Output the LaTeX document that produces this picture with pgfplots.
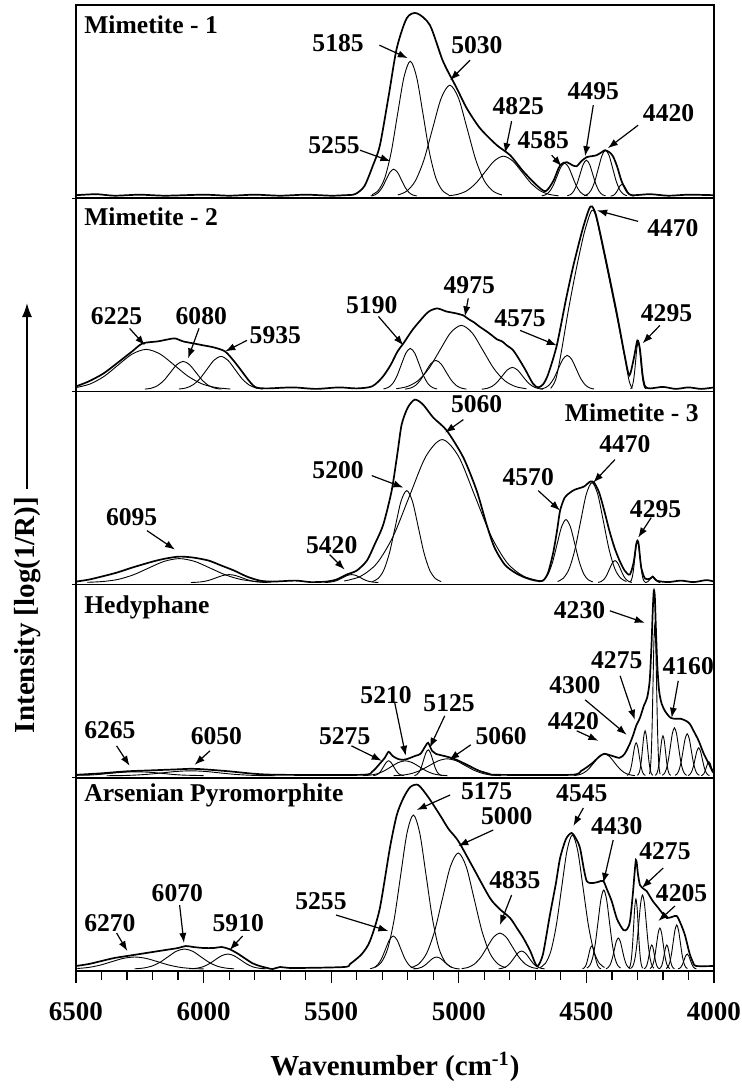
\documentclass[border=0pt]{standalone}
\usepackage{fontspec}
\setmainfont{Liberation Serif}
\usepackage{pgfplots}
\pgfplotsset{compat=1.18}
\usetikzlibrary{arrows.meta}
\newcommand{\lbl}{\fontsize{12.8}{14}\selectfont\bfseries}
\tikzset{
  env/.style={line width=0.85pt, black, smooth, tension=0.45},
  comp/.style={line width=0.45pt, black, smooth},
  arr/.style={line width=0.6pt, -{Latex[length=5pt,width=3.6pt]}},
  lab/.style={font=\lbl, inner sep=0pt},
}
\pgfplotsset{panel/.style={width=319pt, height=96.6pt, scale only axis,
  xmin=4000, xmax=6500, x dir=reverse, ymin=-2, ymax=191.2,
  xtick=\empty, ytick=\empty, clip=false, axis line style={line width=0.7pt}}}
\begin{document}
\begin{tikzpicture}
\useasboundingbox (-38pt,2.5pt) rectangle (332.5pt,-543pt);
% ---------------- Panel 1 ----------------
\begin{axis}[panel, at={(0pt,0pt)}, anchor=north west]
\addplot[env] coordinates {(6500,1)(6420,2)(6350,0.5)(6250,1.5)(6150,0.5)(6000,1.5)(5900,0.5)(5800,1.5)(5700,0.5)(5600,1.5)(5500,0.5)(5450,1)(5407,2)(5370,10)(5336,31)(5309,51)(5275,100)(5243,148)(5204,178)(5165,183)(5113,171)(5062,135)(5008,108)(4969,88)(4917,68)(4851,51)(4799,41)(4748,25)(4695,11)(4660,5)(4630,15)(4603,31)(4577,34)(4555,31)(4538,30)(4520,35)(4499,39)(4480,40)(4460,41)(4440,44)(4427,46)(4410,44)(4396,40)(4380,30)(4362,15)(4340,4)(4320,1)(4250,2)(4180,0.5)(4100,1.5)(4000,1)};
\addplot[comp] coordinates {(5345,0.3)(5330,1.2)(5315,3.7)(5300,8.8)(5285,16.4)(5270,23.8)(5255,27)(5240,23.8)(5225,16.4)(5210,8.8)(5195,3.7)(5180,1.2)(5165,0.3)};
\addplot[comp] coordinates {(5340,1.5)(5315,5.9)(5290,18.3)(5265,43.8)(5240,81.9)(5215,118.8)(5190,135)(5165,118.8)(5140,81.9)(5115,43.8)(5090,18.3)(5065,5.9)(5040,1.5)};
\addplot[comp] coordinates {(5239,1.2)(5205,4.9)(5171,15)(5137,36)(5103,67.3)(5069,98)(5035,111)(5001,98)(4967,67.3)(4933,36)(4899,15)(4865,4.9)(4831,1.2)};
\addplot[comp] coordinates {(5041,0.4)(5005,1.8)(4969,5.4)(4933,13)(4897,24.3)(4861,35.3)(4825,40)(4789,35.3)(4753,24.3)(4717,13)(4681,5.4)(4645,1.8)(4609,0.4)};
\addplot[comp] coordinates {(4675,0.4)(4660,1.4)(4645,4.5)(4630,10.7)(4615,20)(4600,29.1)(4585,33)(4570,29.1)(4555,20)(4540,10.7)(4525,4.5)(4510,1.4)(4495,0.4)};
\addplot[comp] coordinates {(4575,0.4)(4562.5,1.6)(4550,4.9)(4537.5,11.7)(4525,21.8)(4512.5,31.8)(4500,36)(4487.5,31.8)(4475,21.8)(4462.5,11.7)(4450,4.9)(4437.5,1.6)(4425,0.4)};
\addplot[comp] coordinates {(4509,0.5)(4495,2)(4481,6.2)(4467,14.9)(4453,27.9)(4439,40.6)(4425,46)(4411,40.6)(4397,27.9)(4383,14.9)(4369,6.2)(4355,2)(4341,0.5)};
\addplot[comp] coordinates {(4405,0.1)(4397.5,0.5)(4390,1.6)(4382.5,3.9)(4375,7.3)(4367.5,10.6)(4360,12)(4352.5,10.6)(4345,7.3)(4337.5,3.9)(4330,1.6)(4322.5,0.5)(4315,0.1)};
\node[lab, anchor=west] at (axis cs:6469,171) {Mimetite - 1};
\node[lab] at (axis cs:5473,153) {5185}; \draw[arr] (axis cs:5311,151) -- (axis cs:5200,138);
\node[lab] at (axis cs:4929,151) {5030}; \draw[arr] (axis cs:4956,136) -- (axis cs:5034,116);
\node[lab] at (axis cs:5489,51) {5255}; \draw[arr] (axis cs:5387,46) -- (axis cs:5268,35);
\node[lab] at (axis cs:4767,90) {4825}; \draw[arr] (axis cs:4793,75) -- (axis cs:4819,43);
\node[lab] at (axis cs:4669,56) {4585}; \draw[arr] (axis cs:4636,41) -- (axis cs:4597,30);
\node[lab] at (axis cs:4473,105) {4495}; \draw[arr] (axis cs:4473,91) -- (axis cs:4505,40);
\node[lab] at (axis cs:4178,83) {4420}; \draw[arr] (axis cs:4297,71) -- (axis cs:4416,48);
\end{axis}
% ---------------- Panel 2 ----------------
\begin{axis}[panel, at={(0pt,-96.6pt)}, anchor=north west]
\addplot[env] coordinates {(6500,3)(6450,8)(6392,16)(6330,28)(6280,38)(6239,46)(6180,48)(6140,50)(6112,51)(6080,48)(6040,46)(6000,44)(5960,42)(5916,38)(5880,28)(5850,18)(5820,8)(5795,2)(5750,1)(5650,2)(5560,0.5)(5470,2)(5400,1)(5340,3)(5300,12)(5268,24)(5240,38)(5217,46)(5180,60)(5130,75)(5110,79)(5087,81)(5070,80)(5050,78)(5030,77)(5010,76)(4995,75)(4982,74)(4960,70)(4940,67)(4920,63)(4891,58)(4870,54)(4850,50)(4830,48)(4812,44)(4790,40)(4773,34)(4740,20)(4710,6)(4690,2)(4670,5)(4650,15)(4616,44)(4580,90)(4550,125)(4515,160)(4490,180)(4478,183)(4460,172)(4420,125)(4380,75)(4350,34)(4332,14)(4315,30)(4300,49)(4290,40)(4280,15)(4270,3)(4250,1)(4200,2.5)(4150,0.5)(4100,2)(4050,0.5)(4000,2)};
\addplot[comp] coordinates {(6500,1.8)(6445,5.4)(6390,13)(6335,24.3)(6280,35.3)(6225,40)(6170,35.3)(6115,24.3)(6060,13)(6005,5.4)(5950,1.8)(5895,0.4)};
\addplot[comp] coordinates {(6230,0.3)(6205,1.2)(6180,3.8)(6155,9.1)(6130,17)(6105,24.7)(6080,28)(6055,24.7)(6030,17)(6005,9.1)(5980,3.8)(5955,1.2)(5930,0.3)};
\addplot[comp] coordinates {(6097,0.4)(6069.5,1.4)(6042,4.5)(6014.5,10.7)(5987,20)(5959.5,29.1)(5932,33)(5904.5,29.1)(5877,20)(5849.5,10.7)(5822,4.5)(5794.5,1.4)(5767,0.4)};
\addplot[comp] coordinates {(5295,0.5)(5277.5,1.8)(5260,5.5)(5242.5,13.3)(5225,24.9)(5207.5,36.2)(5190,41)(5172.5,36.2)(5155,24.9)(5137.5,13.3)(5120,5.5)(5102.5,1.8)(5085,0.5)};
\addplot[comp] coordinates {(5210,0.3)(5190,1.3)(5170,3.9)(5150,9.4)(5130,17.6)(5110,25.6)(5090,29)(5070,25.6)(5050,17.6)(5030,9.4)(5010,3.9)(4990,1.3)(4970,0.3)};
\addplot[comp] coordinates {(5245,0.7)(5202.5,2.8)(5160,8.7)(5117.5,20.8)(5075,38.8)(5032.5,56.5)(4990,64)(4947.5,56.5)(4905,38.8)(4862.5,20.8)(4820,8.7)(4777.5,2.8)(4735,0.7)};
\addplot[comp] coordinates {(4910,0.2)(4890,1)(4870,3)(4850,7.1)(4830,13.3)(4810,19.4)(4790,22)(4770,19.4)(4750,13.3)(4730,7.1)(4710,3)(4690,1)(4670,0.2)};
\addplot[comp] coordinates {(4680,0.4)(4662.5,1.5)(4645,4.6)(4627.5,11)(4610,20.6)(4592.5,30)(4575,34)(4557.5,30)(4540,20.6)(4522.5,11)(4505,4.6)(4487.5,1.5)(4470,0.4)};
\addplot[comp] coordinates {(4640,1)(4620,10)(4600,35)(4570,80)(4540,120)(4510,155)(4485,176)(4472,179)(4458,168)(4420,122)(4380,72)(4350,32)(4332,8)(4320,1)};
\addplot[comp] coordinates {(4327,0.5)(4322,2.1)(4317,6.4)(4312,15.3)(4307,28.5)(4302,41.5)(4297,47)(4292,41.5)(4287,28.5)(4282,15.3)(4277,6.4)(4272,2.1)(4267,0.5)};
\node[lab, anchor=west] at (axis cs:6469,173) {Mimetite - 2};
\node[lab] at (axis cs:4161,161) {4470}; \draw[arr] (axis cs:4297,168) -- (axis cs:4458,179);
\node[lab] at (axis cs:6341,73) {6225}; \draw[arr] (axis cs:6290,61) -- (axis cs:6230,44);
\node[lab] at (axis cs:6009,73) {6080}; \draw[arr] (axis cs:6018,61) -- (axis cs:6061,31);
\node[lab] at (axis cs:5719,54) {5935}; \draw[arr] (axis cs:5830,49) -- (axis cs:5915,38);
\node[lab] at (axis cs:5341,84) {5190}; \draw[arr] (axis cs:5315,73) -- (axis cs:5217,44);
\node[lab] at (axis cs:4959,104) {4975}; \draw[arr] (axis cs:4963,91) -- (axis cs:4976,73);
\node[lab] at (axis cs:4760,71) {4575}; \draw[arr] (axis cs:4760,59) -- (axis cs:4616,44);
\node[lab] at (axis cs:4186,76) {4295}; \draw[arr] (axis cs:4212,64) -- (axis cs:4280,46);
\end{axis}
% ---------------- Panel 3 ----------------
\begin{axis}[panel, at={(0pt,-193.2pt)}, anchor=north west]
\addplot[env] coordinates {(6500,1)(6450,3)(6400,6)(6340,10)(6280,15)(6200,21)(6150,24)(6095,26)(6040,25)(5980,22)(5930,17)(5880,12)(5830,6)(5780,2)(5730,1)(5640,2)(5580,0.5)(5520,1)(5480,3)(5440,8)(5400,12)(5360,22)(5330,38)(5296,58)(5263,92)(5240,130)(5224,158)(5200,175)(5172,183)(5140,178)(5100,165)(5047,152)(4982,125)(4930,92)(4891,58)(4860,35)(4820,18)(4780,10)(4740,5)(4700,2)(4670,2)(4650,10)(4630,30)(4615,52)(4603,72)(4585,85)(4564,90)(4545,93)(4510,96)(4485,101)(4470,100)(4450,90)(4430,72)(4410,52)(4390,35)(4370,22)(4350,12)(4330,8)(4315,20)(4305,38)(4300,42)(4295,38)(4285,15)(4270,4)(4250,4)(4240,6)(4225,2)(4180,0.5)(4130,2)(4080,0.5)(4030,2.5)(4000,1)};
\addplot[comp] coordinates {(6455,0.3)(6395,1.1)(6335,3.2)(6275,7.8)(6215,14.6)(6155,21.2)(6095,24)(6035,21.2)(5975,14.6)(5915,7.8)(5855,3.2)(5795,1.1)(5735,0.3)};
\addplot[comp] coordinates {(6050,0.1)(6025,0.4)(6000,1.1)(5975,2.6)(5950,4.9)(5925,7.1)(5900,8)(5875,7.1)(5850,4.9)(5825,2.6)(5800,1.1)(5775,0.4)(5750,0.1)};
\addplot[comp] coordinates {(5525,0.1)(5507.5,0.4)(5490,1.1)(5472.5,2.6)(5455,4.9)(5437.5,7.1)(5420,8)(5402.5,7.1)(5385,4.9)(5367.5,2.6)(5350,1.1)(5332.5,0.4)(5315,0.1)};
\addplot[comp] coordinates {(5339,1)(5316.5,4)(5294,12.4)(5271.5,29.9)(5249,55.8)(5226.5,81.2)(5204,92)(5181.5,81.2)(5159,55.8)(5136.5,29.9)(5114,12.4)(5091.5,4)(5069,1)};
\addplot[comp] coordinates {(5449,1.6)(5385,6.3)(5321,19.3)(5257,46.4)(5193,86.7)(5129,126.2)(5065,143)(5001,126.2)(4937,86.7)(4873,46.4)(4809,19.3)(4745,6.3)(4681,1.6)};
\addplot[comp] coordinates {(4685,0.7)(4667.5,2.8)(4650,8.5)(4632.5,20.5)(4615,38.2)(4597.5,55.6)(4580,63)(4562.5,55.6)(4545,38.2)(4527.5,20.5)(4510,8.5)(4492.5,2.8)(4475,0.7)};
\addplot[comp] coordinates {(4613,1.1)(4590.5,4.4)(4568,13.5)(4545.5,32.5)(4523,60.7)(4500.5,88.3)(4478,100)(4455.5,88.3)(4433,60.7)(4410.5,32.5)(4388,13.5)(4365.5,4.4)(4343,1.1)};
\addplot[comp] coordinates {(4454,0.2)(4443,1)(4432,3)(4421,7.1)(4410,13.3)(4399,19.4)(4388,22)(4377,19.4)(4366,13.3)(4355,7.1)(4344,3)(4333,1)(4322,0.2)};
\addplot[comp] coordinates {(4330,0.5)(4325,1.8)(4320,5.7)(4315,13.6)(4310,25.5)(4305,37.1)(4300,42)(4295,37.1)(4290,25.5)(4285,13.6)(4280,5.7)(4275,1.8)(4270,0.5)};
\addplot[comp] coordinates {(4270,0.1)(4260,0.8)(4250,3.6)(4245,5.3)(4240,6)(4235,5.3)(4230,3.6)(4220,0.8)(4210,0.1)};
\node[lab, anchor=east] at (axis cs:4059,170) {Mimetite - 3};
\node[lab] at (axis cs:4930,178) {5060}; \draw[arr] (axis cs:4982,163) -- (axis cs:5054,150);
\node[lab] at (axis cs:5473,112) {5200}; \draw[arr] (axis cs:5341,107) -- (axis cs:5217,95);
\node[lab] at (axis cs:4349,138) {4470}; \draw[arr] (axis cs:4388,123) -- (axis cs:4473,100);
\node[lab] at (axis cs:4728,105) {4570}; \draw[arr] (axis cs:4689,92) -- (axis cs:4603,72);
\node[lab] at (axis cs:4229,73) {4295}; \draw[arr] (axis cs:4246,65) -- (axis cs:4297,45);
\node[lab] at (axis cs:6282,65) {6095}; \draw[arr] (axis cs:6222,52) -- (axis cs:6112,33);
\node[lab] at (axis cs:5498,37) {5420}; \draw[arr] (axis cs:5506,28) -- (axis cs:5447,13);
\end{axis}
% ---------------- Panel 4 ----------------
\begin{axis}[panel, at={(0pt,-289.8pt)}, anchor=north west]
\addplot[env] coordinates {(6500,1)(6400,2.5)(6300,4.5)(6200,5.5)(6100,6.5)(6050,7)(6000,6.5)(5900,4.5)(5800,2)(5700,1)(5380,1)(5340,4)(5310,12)(5290,18)(5275,24)(5260,20)(5240,17)(5220,16)(5200,17)(5170,20)(5150,22)(5130,30)(5120,33)(5105,25)(5090,22)(5060,20)(5030,18)(5000,15)(4960,10)(4920,5)(4880,2)(4850,1)(4560,1)(4520,5)(4480,12)(4450,19)(4430,22)(4400,20)(4370,18)(4350,22)(4330,32)(4315,42)(4305,50)(4290,58)(4275,70)(4262,78)(4252,95)(4245,130)(4240,165)(4236,185)(4232,180)(4228,150)(4222,110)(4215,85)(4205,72)(4190,64)(4170,58)(4150,57)(4130,57)(4110,55)(4095,52)(4080,45)(4060,35)(4040,22)(4020,12)(4005,4)(4000,3)};
\addplot[comp] coordinates {(6500,0.5)(6450,0.7)(6400,1.6)(6350,2.9)(6300,3.8)(6265,4)(6230,3.8)(6180,2.9)(6130,1.6)(6080,0.7)(6000,0.2)};
\addplot[comp] coordinates {(6380,0.1)(6325,0.2)(6270,0.7)(6215,1.6)(6160,3)(6105,4.4)(6050,5)(5995,4.4)(5940,3)(5885,1.6)(5830,0.7)(5775,0.2)(5720,0.1)};
\addplot[comp] coordinates {(5335,0.2)(5325,0.7)(5315,2)(5305,4.9)(5295,9.1)(5285,13.2)(5275,15)(5265,13.2)(5255,9.1)(5245,4.9)(5235,2)(5225,0.7)(5215,0.2)};
\addplot[comp] coordinates {(5375,0.2)(5347.5,0.7)(5320,2)(5292.5,4.9)(5265,9.1)(5237.5,13.2)(5210,15)(5182.5,13.2)(5155,9.1)(5127.5,4.9)(5100,2)(5072.5,0.7)(5045,0.2)};
\addplot[comp] coordinates {(5174,0.3)(5165,1.1)(5156,3.5)(5147,8.4)(5138,15.8)(5129,22.9)(5120,26)(5111,22.9)(5102,15.8)(5093,8.4)(5084,3.5)(5075,1.1)(5066,0.3)};
\addplot[comp] coordinates {(5255,0.2)(5220,0.7)(5185,2.3)(5150,5.5)(5115,10.3)(5080,15)(5045,17)(5010,15)(4975,10.3)(4940,5.5)(4905,2.3)(4870,0.7)(4835,0.2)};
\addplot[comp] coordinates {(4550,0.2)(4530,1)(4510,3)(4490,7.1)(4470,13.3)(4450,19.4)(4430,22)(4410,19.4)(4390,13.3)(4370,7.1)(4350,3)(4330,1)(4310,0.2)};
\addplot[comp] coordinates {(4341,0.4)(4335,1.4)(4329,4.5)(4323,10.7)(4317,20)(4311,29.1)(4305,33)(4299,29.1)(4293,20)(4287,10.7)(4281,4.5)(4275,1.4)(4269,0.4)};
\addplot[comp] coordinates {(4300,0.5)(4295,2)(4290,6.1)(4285,14.6)(4280,27.3)(4275,39.7)(4270,45)(4265,39.7)(4260,27.3)(4255,14.6)(4250,6.1)(4245,2)(4240,0.5)};
\addplot[comp] coordinates {(4253,1.7)(4249.5,6.6)(4246,20.4)(4242.5,49)(4239,91.6)(4235.5,133.3)(4232,151)(4228.5,133.3)(4225,91.6)(4221.5,49)(4218,20.4)(4214.5,6.6)(4211,1.7)};
\addplot[comp] coordinates {(4230,0.4)(4225,1.8)(4220,5.4)(4215,13)(4210,24.3)(4205,35.3)(4200,40)(4195,35.3)(4190,24.3)(4185,13)(4180,5.4)(4175,1.8)(4170,0.4)};
\addplot[comp] coordinates {(4203,0.5)(4195,2.1)(4187,6.5)(4179,15.6)(4171,29.1)(4163,42.4)(4155,48)(4147,42.4)(4139,29.1)(4131,15.6)(4123,6.5)(4115,2.1)(4107,0.5)};
\addplot[comp] coordinates {(4153,0.5)(4145,1.8)(4137,5.7)(4129,13.6)(4121,25.5)(4113,37.1)(4105,42)(4097,37.1)(4089,25.5)(4081,13.6)(4073,5.7)(4065,1.8)(4057,0.5)};
\addplot[comp] coordinates {(4102,0.3)(4095,1.2)(4088,3.8)(4081,9.1)(4074,17)(4067,24.7)(4060,28)(4053,24.7)(4046,17)(4039,9.1)(4032,3.8)(4025,1.2)(4018,0.3)};
\addplot[comp] coordinates {(4050,0.2)(4040,1.9)(4030,8.5)(4025,12.4)(4020,14)(4015,12.4)(4010,8.5)(4000,1.9)};
\node[lab, anchor=west] at (axis cs:6469,168) {Hedyphane};
\node[lab] at (axis cs:4527,166) {4230}; \draw[arr] (axis cs:4408,165) -- (axis cs:4271,153);
\node[lab] at (axis cs:4101,110) {4160}; \draw[arr] (axis cs:4140,95) -- (axis cs:4166,58);
\node[lab] at (axis cs:4381,116) {4275}; \draw[arr] (axis cs:4368,100) -- (axis cs:4310,56);
\node[lab] at (axis cs:4545,91) {4300}; \draw[arr] (axis cs:4505,76) -- (axis cs:4342,41);
\node[lab] at (axis cs:4551,55) {4420}; \draw[arr] (axis cs:4538,45) -- (axis cs:4453,35);
\node[lab] at (axis cs:6367,46) {6265}; \draw[arr] (axis cs:6341,30) -- (axis cs:6290,10);
\node[lab] at (axis cs:5950,40) {6050}; \draw[arr] (axis cs:5975,25) -- (axis cs:6035,11);
\node[lab] at (axis cs:5447,40) {5275}; \draw[arr] (axis cs:5421,30) -- (axis cs:5302,15);
\node[lab] at (axis cs:5285,81) {5210}; \draw[arr] (axis cs:5251,73) -- (axis cs:5208,20);
\node[lab] at (axis cs:5038,73) {5125}; \draw[arr] (axis cs:5055,60) -- (axis cs:5114,28);
\node[lab] at (axis cs:4834,40) {5060}; \draw[arr] (axis cs:4953,31) -- (axis cs:5038,16);
\end{axis}
% ---------------- Panel 5 ----------------
\begin{axis}[panel, at={(0pt,-386.4pt)}, anchor=north west,
  xtick={4000,4500,5000,5500,6000,6500}, minor x tick num=4, xtick pos=left,
  tick align=outside, major tick length=6pt, minor tick length=4.5pt,
  every tick/.style={black, line width=0.6pt},
  /pgf/number format/1000 sep={}, /pgf/number format/assume math mode=true,
  xticklabel style={font=\fontsize{13.5}{15}\selectfont\bfseries, yshift=-6pt}]
\addplot[env] coordinates {(6500,3)(6450,5)(6400,8)(6350,11)(6300,13)(6250,15)(6200,17)(6150,19)(6100,21)(6070,23)(6040,22)(6000,21)(5960,21)(5930,22)(5900,20)(5870,16)(5840,11)(5810,6)(5780,3)(5750,1)(5730,0)(5700,2)(5650,1)(5450,2)(5426,5)(5380,15)(5348,28)(5310,60)(5270,121)(5243,154)(5217,171)(5190,182)(5159,184)(5120,172)(5074,154)(5040,140)(5002,128)(4943,101)(4878,71)(4840,60)(4799,51)(4770,40)(4747,31)(4720,18)(4701,6)(4690,3)(4670,15)(4643,54)(4620,85)(4603,111)(4580,130)(4558,136)(4540,130)(4525,121)(4510,100)(4499,88)(4485,86)(4473,86)(4455,87)(4434,88)(4420,80)(4401,68)(4380,50)(4355,39)(4340,40)(4329,48)(4318,75)(4306,109)(4298,95)(4290,84)(4275,80)(4264,78)(4240,68)(4218,61)(4200,55)(4185,51)(4165,52)(4146,53)(4130,45)(4114,34)(4095,15)(4081,6)(4070,3)(4000,3)};
\addplot[comp] coordinates {(6495,0.5)(6450,1.6)(6405,3.9)(6360,7.3)(6315,10.6)(6270,12)(6225,10.6)(6180,7.3)(6135,3.9)(6090,1.6)(6045,0.5)(6000,0.1)};
\addplot[comp] coordinates {(6270,0.2)(6237.5,0.9)(6205,2.7)(6172.5,6.5)(6140,12.1)(6107.5,17.7)(6075,20)(6042.5,17.7)(6010,12.1)(5977.5,6.5)(5945,2.7)(5912.5,0.9)(5880,0.2)};
\addplot[comp] coordinates {(6055,0.2)(6030,0.7)(6005,2)(5980,4.9)(5955,9.1)(5930,13.2)(5905,15)(5880,13.2)(5855,9.1)(5830,4.9)(5805,2)(5780,0.7)(5755,0.2)};
\addplot[comp] coordinates {(5347,0.4)(5332,1.4)(5317,4.5)(5302,10.7)(5287,20)(5272,29.1)(5257,33)(5242,29.1)(5227,20)(5212,10.7)(5197,4.5)(5182,1.4)(5167,0.4)};
\addplot[comp] coordinates {(5328,1.7)(5303,6.8)(5278,20.8)(5253,50)(5228,93.4)(5203,135.9)(5178,154)(5153,135.9)(5128,93.4)(5103,50)(5078,20.8)(5053,6.8)(5028,1.7)};
\addplot[comp] coordinates {(5177,0.1)(5162,0.5)(5147,1.6)(5132,3.9)(5117,7.3)(5102,10.6)(5087,12)(5072,10.6)(5057,7.3)(5042,3.9)(5027,1.6)(5012,0.5)(4997,0.1)};
\addplot[comp] coordinates {(5188,1.3)(5157,5.1)(5126,15.7)(5095,37.7)(5064,70.4)(5033,102.4)(5002,116)(4971,102.4)(4940,70.4)(4909,37.7)(4878,15.7)(4847,5.1)(4816,1.3)};
\addplot[comp] coordinates {(4989,0.4)(4964,1.6)(4939,4.9)(4914,11.7)(4889,21.8)(4864,31.8)(4839,36)(4814,31.8)(4789,21.8)(4764,11.7)(4739,4.9)(4714,1.6)(4689,0.4)};
\addplot[comp] coordinates {(4844,0.2)(4829,0.8)(4814,2.4)(4799,5.8)(4784,10.9)(4769,15.9)(4754,18)(4739,15.9)(4724,10.9)(4709,5.8)(4694,2.4)(4679,0.8)(4664,0.2)};
\addplot[comp] coordinates {(4681,1.5)(4660,5.9)(4639,18.1)(4618,43.5)(4597,81.3)(4576,118.3)(4555,134)(4534,118.3)(4513,81.3)(4492,43.5)(4471,18.1)(4450,5.9)(4429,1.5)};
\addplot[comp] coordinates {(4515,0.3)(4509,1)(4503,3.1)(4497,7.5)(4491,14)(4485,20.3)(4479,23)(4473,20.3)(4467,14)(4461,7.5)(4455,3.1)(4449,1)(4443,0.3)};
\addplot[comp] coordinates {(4498,0.9)(4487,3.5)(4476,10.7)(4465,25.7)(4454,47.9)(4443,69.7)(4432,79)(4421,69.7)(4410,47.9)(4399,25.7)(4388,10.7)(4377,3.5)(4366,0.9)};
\addplot[comp] coordinates {(4423,0.3)(4415,1.4)(4407,4.2)(4399,10.1)(4391,18.8)(4383,27.4)(4375,31)(4367,27.4)(4359,18.8)(4351,10.1)(4343,4.2)(4335,1.4)(4327,0.3)};
\addplot[comp] coordinates {(4333,0.8)(4328.5,3.1)(4324,9.5)(4319.5,22.8)(4315,42.5)(4310.5,61.8)(4306,70)(4301.5,61.8)(4297,42.5)(4292.5,22.8)(4288,9.5)(4283.5,3.1)(4279,0.8)};
\addplot[comp] coordinates {(4325,0.8)(4317.5,3.2)(4310,10)(4302.5,24)(4295,44.9)(4287.5,65.3)(4280,74)(4272.5,65.3)(4265,44.9)(4257.5,24)(4250,10)(4242.5,3.2)(4235,0.8)};
\addplot[comp] coordinates {(4274,0.3)(4269,1.1)(4264,3.2)(4259,7.8)(4254,14.6)(4249,21.2)(4244,24)(4239,21.2)(4234,14.6)(4229,7.8)(4224,3.2)(4219,1.1)(4214,0.3)};
\addplot[comp] coordinates {(4251,0.5)(4244.5,1.8)(4238,5.5)(4231.5,13.3)(4225,24.9)(4218.5,36.2)(4212,41)(4205.5,36.2)(4199,24.9)(4192.5,13.3)(4186,5.5)(4179.5,1.8)(4173,0.5)};
\addplot[comp] coordinates {(4215,0.3)(4210,1.1)(4205,3.2)(4200,7.8)(4195,14.6)(4190,21.2)(4185,24)(4180,21.2)(4175,14.6)(4170,7.8)(4165,3.2)(4160,1.1)(4155,0.3)};
\addplot[comp] coordinates {(4188,0.5)(4181,1.9)(4174,6)(4167,14.3)(4160,26.7)(4153,38.8)(4146,44)(4139,38.8)(4132,26.7)(4125,14.3)(4118,6)(4111,1.9)(4104,0.5)};
\addplot[comp] coordinates {(4141,0.2)(4135,0.7)(4129,2)(4123,4.9)(4117,9.1)(4111,13.2)(4105,15)(4099,13.2)(4093,9.1)(4087,4.9)(4081,2)(4075,0.7)(4069,0.2)};
\node[lab, anchor=west] at (axis cs:6469,174) {Arsenian Pyromorphite};
\node[lab] at (axis cs:4891,178) {5175}; \draw[arr] (axis cs:5034,174) -- (axis cs:5165,159);
\node[lab] at (axis cs:4812,153) {5000}; \draw[arr] (axis cs:4865,139) -- (axis cs:5002,123);
\node[lab] at (axis cs:4518,176) {4545}; \draw[arr] (axis cs:4512,161) -- (axis cs:4551,143);
\node[lab] at (axis cs:4381,143) {4430}; \draw[arr] (axis cs:4395,129) -- (axis cs:4434,86);
\node[lab] at (axis cs:4192,118) {4275}; \draw[arr] (axis cs:4199,101) -- (axis cs:4283,81);
\node[lab] at (axis cs:4127,76) {4205}; \draw[arr] (axis cs:4153,63) -- (axis cs:4218,48);
\node[lab] at (axis cs:4780,89) {4835}; \draw[arr] (axis cs:4793,74) -- (axis cs:4839,44);
\node[lab] at (axis cs:5540,68) {5255}; \draw[arr] (axis cs:5481,54) -- (axis cs:5276,38);
\node[lab] at (axis cs:6367,46) {6270}; \draw[arr] (axis cs:6341,36) -- (axis cs:6299,18);
\node[lab] at (axis cs:6103,76) {6070}; \draw[arr] (axis cs:6094,64) -- (axis cs:6077,26);
\node[lab] at (axis cs:5864,46) {5910}; \draw[arr] (axis cs:5847,33) -- (axis cs:5898,19);
\node[font=\fontsize{14.5}{16}\selectfont\bfseries] at (rel axis cs:0.5,0) [yshift=-48pt] {Wavenumber (cm\textsuperscript{-1})};
\end{axis}
% small marks on the left frame at the panel joins
\foreach \yy in {-96.6,-193.2,-289.8,-386.4} {\draw[line width=0.6pt] (-2pt,\yy pt) -- (0pt,\yy pt);}
% y label
\node[rotate=90, font=\fontsize{14.5}{16}\selectfont\bfseries] at (-24pt,-305pt) {Intensity [log(1/R)]};
\draw[line width=0.8pt, -{Latex[length=7pt,width=5pt]}] (-24.5pt,-242pt) -- (-24.5pt,-149pt);
\end{tikzpicture}
\end{document}
